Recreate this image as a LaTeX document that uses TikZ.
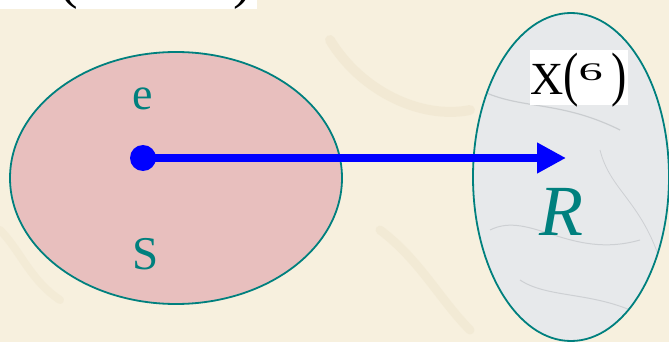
\documentclass[tikz,border=0pt]{standalone}
\usepackage{fontspec}
\setmainfont{Liberation Serif}
\usepackage{graphicx}
\usetikzlibrary{arrows.meta,shapes.geometric}
\definecolor{myteal}{RGB}{0,128,126}
\definecolor{bgbeige}{RGB}{247,240,222}
\definecolor{bgvein}{RGB}{238,228,204}
\definecolor{pinkfill}{RGB}{232,191,190}
\definecolor{marble}{RGB}{231,233,235}
\definecolor{marblevein}{RGB}{175,178,182}
\definecolor{arrowblue}{RGB}{0,0,255}
\tikzset{
  setshape/.style={ellipse, draw=myteal, line width=1.8pt, inner sep=0pt},
  setlabel/.style={text=myteal, inner sep=0pt, anchor=base},
  blacklabel/.style={text=black, inner sep=0pt},
}
\begin{document}
\begin{tikzpicture}[x=1pt,y=-1pt]
\fill[bgbeige] (0,0) rectangle (669,342);
\useasboundingbox (0,0) rectangle (669,342);
% faint parchment veins
\draw[bgvein, line width=10pt, line cap=round, opacity=0.5] (330,40) .. controls (360,90) and (420,120) .. (470,110);
\draw[bgvein, line width=9pt, line cap=round, opacity=0.45] (380,230) .. controls (420,260) and (440,300) .. (470,330);
\draw[bgvein, line width=8pt, line cap=round, opacity=0.4] (0,230) .. controls (20,250) and (30,280) .. (60,300);
% top-left cut-off label box
\fill[white] (0,0) rectangle (257,9);
\begin{scope}
\clip (0,0) rectangle (257,9);
\node[blacklabel, anchor=south, font=\fontsize{56}{56}\selectfont] (lpar) at (69,10) {(};
\node[blacklabel, anchor=south, font=\fontsize{56}{56}\selectfont] (rpar) at (243,10) {)};
\end{scope}
% left set S
\node[setshape, fill=pinkfill, minimum width=332pt, minimum height=252pt] (Sset) at (176,178) {};
% right set R
\node[setshape, fill=marble, minimum width=196pt, minimum height=328pt] (Rset) at (571,177) {};
\begin{scope}
\clip (571,177) ellipse [x radius=97pt, y radius=163pt];
\draw[marblevein, line width=1.2pt, opacity=0.5] (480,90) .. controls (520,110) and (560,100) .. (620,130);
\draw[marblevein, line width=1pt, opacity=0.45] (490,230) .. controls (530,210) and (570,260) .. (640,240);
\draw[marblevein, line width=1pt, opacity=0.45] (520,280) .. controls (550,300) and (600,290) .. (650,320);
\draw[marblevein, line width=0.8pt, opacity=0.45] (600,150) .. controls (610,190) and (640,200) .. (660,260);
\end{scope}
% labels
\node[setlabel, font=\fontsize{46}{46}\selectfont] (elab) at (143,110) {e};
\node[setlabel, font=\fontsize{47}{47}\selectfont] (Slab) at (146,269) {S};
\node[setlabel, font=\fontsize{72}{72}\selectfont\itshape] (Rlab) at (561,235) {R};
% X(e) label
\node[fill=white, inner sep=0pt, minimum width=98pt, minimum height=55pt] (xbox) at (579,78) {};
\node[blacklabel, anchor=base west, font=\fontsize{46}{46}\selectfont] (xlab) at (530,95)
  {X\scalebox{1}[1.3]{(}\raisebox{14pt}{\scalebox{1.05}[0.55]{6}}\hspace{9pt}\scalebox{1}[1.3]{)}};
% mapping arrow
\node[circle, fill=arrowblue, inner sep=0pt, minimum size=26pt] (dot) at (143,158) {};
\coordinate (tip) at (566,158);
\draw[arrowblue, line width=8.5pt, -{Triangle[length=29pt,width=29pt]}] (dot.center) -- (tip);
\end{tikzpicture}
\end{document}
